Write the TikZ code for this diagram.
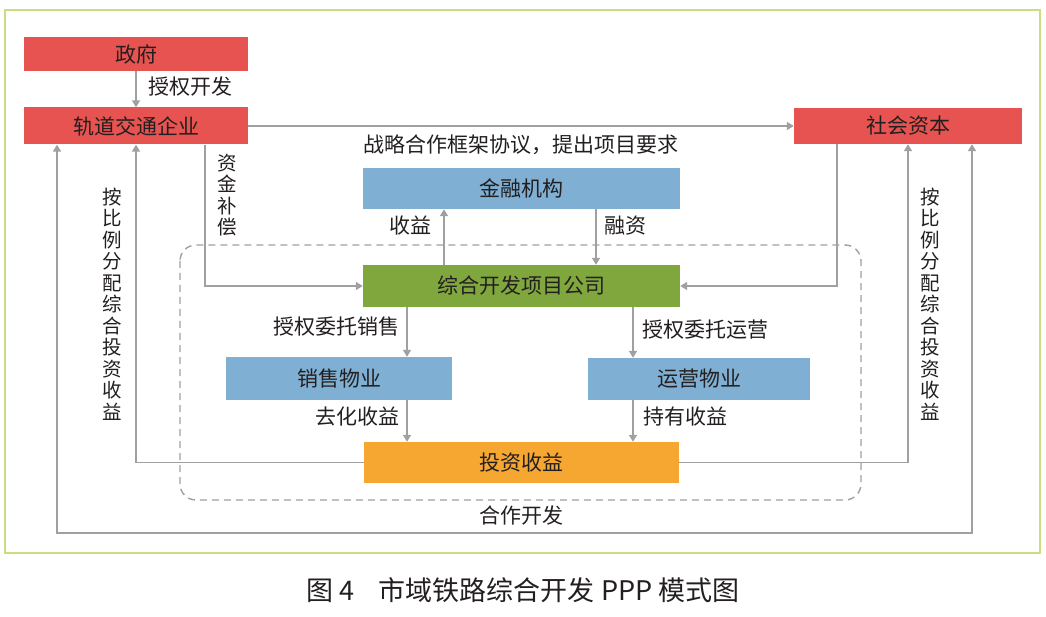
\documentclass[tikz,border=0pt]{standalone}
\usepackage{fontspec}
\setmainfont{Noto Sans CJK SC}
\usetikzlibrary{arrows.meta}

\definecolor{boxred}{RGB}{230,83,80}
\definecolor{boxblue}{RGB}{127,176,211}
\definecolor{boxgreen}{RGB}{128,166,62}
\definecolor{boxorange}{RGB}{246,167,50}
\definecolor{linegray}{RGB}{160,160,162}
\definecolor{framegreen}{RGB}{200,222,130}
\definecolor{txt}{RGB}{35,31,32}

\begin{document}
\begin{tikzpicture}[x=1pt, y=-1pt,
    box/.style={inner sep=0pt, text=txt, font=\fontsize{21}{24}\selectfont},
    lbl/.style={inner sep=0pt, text=txt, font=\fontsize{21}{24}\selectfont},
    vlbl/.style={inner sep=0pt, text=txt, align=center, font=\fontsize{19.5}{21.5}\selectfont},
    arr/.style={linegray, line width=1.6pt, -{Triangle[width=8pt,length=7pt]}},
    ln/.style={linegray, line width=1.6pt}]
    \useasboundingbox (0,0) rectangle (1046,617);

    % outer frame
    \draw [framegreen, line width=2.5pt] (5,10) rectangle (1040,553);

    % the dashed box round the project company
    \draw [linegray, line width=1.4pt, dash pattern=on 7pt off 5pt, rounded corners=16pt] (180,245) rectangle (861,500);

    % top row
    \node [box, fill=boxred, minimum width=224pt, minimum height=34pt] (gov) at (136,54) {政府};
    \node [box, fill=boxred, minimum width=224pt, minimum height=37pt] (rail) at (136,126) {轨道交通企业};
    \node [box, fill=boxred, minimum width=228pt, minimum height=36pt] (social) at (908,126) {社会资本};

    % middle
    \node [box, fill=boxblue, minimum width=317pt, minimum height=41pt] (fin) at (521.5,188.5) {金融机构};
    \node [box, fill=boxgreen, minimum width=317pt, minimum height=42pt] (proj) at (521.5,286) {综合开发项目公司};
    \node [box, fill=boxblue, minimum width=226pt, minimum height=43pt] (sale) at (339,378.5) {销售物业};
    \node [box, fill=boxblue, minimum width=222pt, minimum height=42pt] (oper) at (699,379) {运营物业};
    \node [box, fill=boxorange, minimum width=315pt, minimum height=41pt] (inv) at (521.5,462.5) {投资收益};

    \coordinate (coop) at (521.5,533);

    % arrows
    \draw [arr] (gov) -- (rail);
    \draw [arr] (rail.east) -- (social.west);
    \draw [arr] ([xshift=-77.5pt]proj.north) -- ([xshift=-77.5pt]fin.south);
    \draw [arr] ([xshift=74.5pt]fin.south) -- ([xshift=74.5pt]proj.north);
    \draw [arr] ([xshift=69pt]rail.south) |- (proj.west);
    \draw [arr] ([xshift=-71pt]social.south) |- (proj.east);

    \draw [arr] ([xshift=68pt]sale.north |- proj.south) -- ([xshift=68pt]sale.north);
    \draw [arr] ([xshift=68pt]sale.south) -- ([xshift=68pt]sale.south |- inv.north);
    \draw [arr] ([xshift=-66pt]oper.north |- proj.south) -- ([xshift=-66pt]oper.north);
    \draw [arr] ([xshift=-66pt]oper.south) -- ([xshift=-66pt]oper.south |- inv.north);

    \draw [arr] (inv.west) -| (rail.south);
    \draw [arr] (inv.east) -| (social.south);
    \draw [arr] (coop) -| ([xshift=-79pt]rail.south);
    \draw [arr] (coop) -| ([xshift=64pt]social.south);

    % labels
    \node [lbl] (l1) at (190,87) {授权开发};
    \node [lbl] (l2) at (521,145) {战略合作框架协议，提出项目要求};
    \node [lbl] (l3) at (410,226) {收益};
    \node [lbl] (l4) at (625,226) {融资};
    \node [lbl] (l5) at (336,327) {授权委托销售};
    \node [lbl] (l6) at (357,417) {去化收益};
    \node [lbl] (l7) at (705,330) {授权委托运营};
    \node [lbl] (l8) at (685,417) {持有收益};
    \node [lbl] (l9) at (521,516) {合作开发};
    \node [vlbl] (v1) at (227,195) {资\\金\\补\\偿};
    \node [vlbl] (v2) at (112,304) {按\\比\\例\\分\\配\\综\\合\\投\\资\\收\\益};
    \node [vlbl] (v3) at (930,304) {按\\比\\例\\分\\配\\综\\合\\投\\资\\收\\益};

    % caption
    \node [inner sep=0pt, text=txt, font=\fontsize{27}{30}\selectfont] (cap) at (523,590) {图 4\hspace{0.9em}市域铁路综合开发 PPP 模式图};
\end{tikzpicture}
\end{document}
